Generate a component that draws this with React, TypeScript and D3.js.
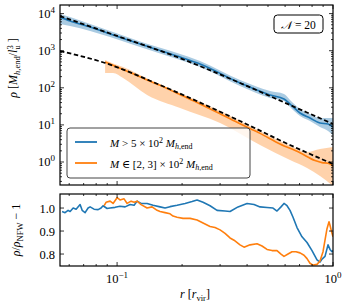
import React from 'react';
import * as d3 from 'd3';

// radius grids [r_vir] and densities
const rBlue = [0.0544, 0.0606, 0.075, 0.0928, 0.1278, 0.1896, 0.2422, 0.371, 0.5109, 0.593, 0.6323, 0.7034, 0.7825, 0.8706, 0.9482, 1.0];
const rhoBlue = [8090, 6320, 4360, 2820, 1517, 720, 438, 135, 64, 49.9, 36.6, 20.9, 15.3, 11.2, 10.6, 8.77];
const rhoBlueHi = [9750, 8090, 5250, 3400, 1770, 867, 528, 162, 82, 68, 46.9, 26.8, 19.7, 15.3, 15.3, 15.3];
const rhoBlueLo = [5250, 4630, 3400, 2340, 1259, 597, 364, 112, 53, 44, 30.4, 17.4, 12.7, 8.8, 6.85, 5.3];

const rOrange = [0.088, 0.1, 0.1149, 0.1377, 0.1581, 0.1896, 0.2422, 0.2999, 0.371, 0.4592, 0.5683, 0.7034, 0.8254, 0.8895, 0.9482, 1.0];
const rhoOrange = [496, 364, 258, 162, 117, 71, 36.6, 20.0, 10.7, 5.9, 3.06, 1.77, 1.09, 0.96, 0.93, 0.78];
const rOrangeBand = [0.088, 0.0958, 0.1066, 0.1377, 0.1957, 0.2999, 0.4592, 0.6323, 0.7581, 0.8706, 1.0];
const rhoOrangeHi = [561, 452, 364, 178, 72.4, 23.7, 6.85, 2.78, 1.86, 2.24, 2.54];
const rhoOrangeLo = [250, 250, 184, 64, 28.6, 11.2, 2.87, 1.13, 0.69, 0.42, 0.225];

// NFW fits (dashed)
const rFit = [0.0544, 0.0928, 0.1896, 0.371, 0.6323, 1.0];
const rhoFitBlue = [8610, 2910, 676, 135, 34.4, 10.6];
const rFit2 = [0.0544, 0.088, 0.1581, 0.371, 0.6323, 1.0];
const rhoFitOrange = [982, 466, 119, 12.7, 2.87, 0.883];

// residual panel
const rRatioBlue = [0.0556, 0.0574, 0.0593, 0.0606, 0.0626, 0.0646, 0.0674, 0.0689, 0.0711, 0.0734, 0.075, 0.0782, 0.0817, 0.0843, 0.0861, 0.0899, 0.0928, 0.0979, 0.1032, 0.1089, 0.1149, 0.1199, 0.1238, 0.1292, 0.1377, 0.1468, 0.1581, 0.1668, 0.1759, 0.1896, 0.2065, 0.2225, 0.2347, 0.2501, 0.2695, 0.2904, 0.3162, 0.3335, 0.3632, 0.3999, 0.4308, 0.4592, 0.4948, 0.5275, 0.5503, 0.5743, 0.593, 0.6124, 0.6323, 0.6529, 0.6813, 0.7186, 0.7581, 0.7995, 0.8432, 0.8706, 0.8895, 0.9183, 0.9482, 0.9685, 0.9894, 1.0];
const ratioBlue = [0.985, 0.98, 0.99, 0.985, 1.0, 0.995, 1.015, 0.99, 0.98, 1.0, 1.005, 0.995, 0.993, 1.0, 1.01, 0.998, 1.0, 1.003, 1.008, 1.005, 1.015, 1.012, 1.03, 1.02, 1.02, 1.012, 1.005, 1.0, 1.006, 1.012, 1.02, 1.028, 1.035, 1.025, 1.01, 0.99, 0.987, 0.985, 1.005, 1.02, 1.015, 1.005, 1.002, 1.0, 0.987, 1.005, 1.02, 1.01, 0.99, 0.96, 0.915, 0.875, 0.85, 0.815, 0.775, 0.765, 0.778, 0.79, 0.84, 0.82, 0.81, 0.815];
const rRatioOrange = [0.0871, 0.0889, 0.0928, 0.0958, 0.1, 0.1032, 0.1077, 0.1113, 0.1161, 0.1199, 0.1238, 0.1292, 0.1377, 0.1452, 0.1532, 0.1581, 0.1668, 0.1759, 0.1816, 0.1896, 0.2021, 0.2178, 0.2347, 0.2501, 0.2695, 0.2842, 0.2999, 0.3162, 0.3335, 0.348, 0.371, 0.3873, 0.4128, 0.4448, 0.4691, 0.4948, 0.5219, 0.5503, 0.5743, 0.593, 0.619, 0.646, 0.6741, 0.7034, 0.7342, 0.7581, 0.7825, 0.808, 0.8432, 0.8706, 0.899, 0.9183, 0.938, 0.9583, 0.9685, 0.9894, 1.0];
const ratioOrange = [1.01, 1.025, 1.03, 1.02, 1.045, 1.035, 1.04, 1.02, 1.03, 1.025, 1.03, 1.015, 1.0, 1.005, 0.99, 0.985, 0.98, 0.975, 0.965, 0.96, 0.955, 0.955, 0.948, 0.935, 0.92, 0.915, 0.905, 0.89, 0.87, 0.86, 0.84, 0.83, 0.84, 0.845, 0.835, 0.82, 0.815, 0.815, 0.8, 0.79, 0.8, 0.81, 0.81, 0.805, 0.795, 0.78, 0.76, 0.752, 0.755, 0.77, 0.81, 0.86, 0.91, 0.94, 0.925, 0.89, 0.875];

const topExps = [0, 1, 2, 3, 4];
const botTicks = [0.8, 0.9, 1.0];
const xMajor = [0.1, 1];

const BLUE = '#1f77b4';
const ORANGE = '#ff7f0e';
const FONT = '"Liberation Serif", "DejaVu Serif", serif';

const L = 60, R = 333, T1 = 5, B1 = 185, T2 = 194, B2 = 266;

const x = d3.scaleLog().domain([0.0544, 1]).range([L, R]);
const yTop = d3.scaleLog().domain([Math.pow(10, -0.62), Math.pow(10, 4.232)]).range([B1, T1]);
const yBot = d3.scaleLinear().domain([0.748, 1.061]).range([B2, T2]);

const zip = (a: number[], b: number[]) => a.map((v, i) => [v, b[i]] as [number, number]);

const lineTop = d3.line<[number, number]>().x(d => x(d[0])).y(d => yTop(d[1])).curve(d3.curveMonotoneX);
const lineBot = d3.line<[number, number]>().x(d => x(d[0])).y(d => yBot(d[1]));
const bandTop = (r: number[], lo: number[], hi: number[]) =>
  d3.area<number>().x((_, i) => x(r[i])).y0((_, i) => yTop(lo[i])).y1((_, i) => yTop(hi[i])).curve(d3.curveMonotoneX)(r) as string;

const xMinor: number[] = [];
[0.01, 0.1].forEach(dec => { for (let k = 2; k <= 9; k++) { const v = dec * k; if (v >= 0.0544 && v <= 1) xMinor.push(v); } });
const yMinor: number[] = [];
[-1, 0, 1, 2, 3, 4].forEach(e => { for (let k = 2; k <= 9; k++) { const v = k * Math.pow(10, e); if (v >= Math.pow(10, -0.62) && v <= Math.pow(10, 4.232)) yMinor.push(v); } });

const XTicks = ({ top, bottom }: { top: number; bottom: number }) => (
  <g stroke="#000" strokeWidth={0.8}>
    {xMajor.map(v => <g key={'M' + v}><line x1={x(v)} x2={x(v)} y1={bottom} y2={bottom - 4} /><line x1={x(v)} x2={x(v)} y1={top} y2={top + 4} /></g>)}
    {xMinor.map(v => <g key={'m' + v}><line x1={x(v)} x2={x(v)} y1={bottom} y2={bottom - 2} /><line x1={x(v)} x2={x(v)} y1={top} y2={top + 2} /></g>)}
  </g>
);

export default function App() {
  return (
    <svg width={354} height={303} style={{ position: 'absolute', left: 0, top: 0, background: '#fff' }} fontFamily={FONT}>
      <defs>
        <clipPath id="c1"><rect x={L} y={T1} width={R - L} height={B1 - T1} /></clipPath>
        <clipPath id="c2"><rect x={L} y={T2} width={R - L} height={B2 - T2} /></clipPath>
      </defs>

      {/* top panel */}
      <g clipPath="url(#c1)">
        <path d={bandTop(rBlue, rhoBlueLo, rhoBlueHi)} fill={BLUE} fillOpacity={0.38} />
        <path d={bandTop(rOrangeBand, rhoOrangeLo, rhoOrangeHi)} fill={ORANGE} fillOpacity={0.35} />
        <path d={lineTop(zip(rBlue, rhoBlue)) as string} fill="none" stroke={BLUE} strokeWidth={1.6} />
        <path d={lineTop(zip(rOrange, rhoOrange)) as string} fill="none" stroke={ORANGE} strokeWidth={1.6} />
        <path d={lineTop(zip(rFit, rhoFitBlue)) as string} fill="none" stroke="#000" strokeWidth={1.8} strokeDasharray="4.5 2.6" />
        <path d={lineTop(zip(rFit2, rhoFitOrange)) as string} fill="none" stroke="#000" strokeWidth={1.8} strokeDasharray="4.5 2.6" />
      </g>
      <XTicks top={T1} bottom={B1} />
      <g stroke="#000" strokeWidth={0.8}>
        {topExps.map(e => <g key={e}><line x1={L} x2={L + 4} y1={yTop(Math.pow(10, e))} y2={yTop(Math.pow(10, e))} /><line x1={R} x2={R - 4} y1={yTop(Math.pow(10, e))} y2={yTop(Math.pow(10, e))} /></g>)}
        {yMinor.map(v => <g key={v}><line x1={L} x2={L + 2} y1={yTop(v)} y2={yTop(v)} /><line x1={R} x2={R - 2} y1={yTop(v)} y2={yTop(v)} /></g>)}
      </g>
      <rect x={L} y={T1} width={R - L} height={B1 - T1} fill="none" stroke="#000" strokeWidth={1.2} />
      {topExps.map(e => (
        <text key={e} x={55} y={yTop(Math.pow(10, e)) + 4.5} textAnchor="end" fontSize={12.5}>
          10<tspan dy={-5.5} fontSize={9}>{e}</tspan>
        </text>
      ))}

      {/* legend */}
      <rect x={67} y={128} width={183} height={50} rx={3} fill="#fff" fillOpacity={0.8} stroke="#444" strokeWidth={1} />
      <line x1={75} x2={97} y1={142} y2={142} stroke={BLUE} strokeWidth={1.8} />
      <line x1={75} x2={97} y1={163} y2={163} stroke={ORANGE} strokeWidth={1.8} />
      <text x={110} y={146.5} fontSize={11}>
        <tspan fontStyle="italic">M</tspan> &gt; 5 × 10<tspan dy={-4} fontSize={8}>2</tspan><tspan dy={4}> </tspan>
        <tspan fontStyle="italic">M</tspan><tspan dy={2.5} fontSize={8}><tspan fontStyle="italic">h</tspan>,end</tspan>
      </text>
      <text x={110} y={167.5} fontSize={11}>
        <tspan fontStyle="italic">M</tspan> ∈ [2, 3] × 10<tspan dy={-4} fontSize={8}>2</tspan><tspan dy={4}> </tspan>
        <tspan fontStyle="italic">M</tspan><tspan dy={2.5} fontSize={8}><tspan fontStyle="italic">h</tspan>,end</tspan>
      </text>

      {/* N box */}
      <rect x={274} y={15} width={49} height={18} rx={3.5} fill="#fff" stroke="#000" strokeWidth={1} />
      <text x={298.5} y={28.5} fontSize={11.5} textAnchor="middle">
        <tspan fontStyle="italic">𝒩</tspan> = 20
      </text>

      {/* bottom panel */}
      <g clipPath="url(#c2)">
        <path d={lineBot(zip(rRatioBlue, ratioBlue)) as string} fill="none" stroke={BLUE} strokeWidth={1.6} strokeLinejoin="round" />
        <path d={lineBot(zip(rRatioOrange, ratioOrange)) as string} fill="none" stroke={ORANGE} strokeWidth={1.6} strokeLinejoin="round" />
      </g>
      <XTicks top={T2} bottom={B2} />
      <g stroke="#000" strokeWidth={0.8}>
        {botTicks.map(v => <g key={v}><line x1={L} x2={L + 4} y1={yBot(v)} y2={yBot(v)} /><line x1={R} x2={R - 4} y1={yBot(v)} y2={yBot(v)} /></g>)}
      </g>
      <rect x={L} y={T2} width={R - L} height={B2 - T2} fill="none" stroke="#000" strokeWidth={1.2} />
      {botTicks.map(v => (
        <text key={v} x={55} y={yBot(v) + 4.5} textAnchor="end" fontSize={12.5}>{v.toFixed(1)}</text>
      ))}
      <text x={x(0.1)} y={283} textAnchor="middle" fontSize={12.5}>10<tspan dy={-5.5} fontSize={9}>−1</tspan></text>
      <text x={x(1)} y={283} textAnchor="middle" fontSize={12.5}>10<tspan dy={-5.5} fontSize={9}>0</tspan></text>

      {/* axis labels */}
      <text x={195} y={298} textAnchor="middle" fontSize={12}>
        <tspan fontStyle="italic">r</tspan> [<tspan fontStyle="italic">r</tspan><tspan dy={2.5} fontSize={8.5}>vir</tspan><tspan dy={-2.5}>]</tspan>
      </text>
      <text transform="translate(17,68) rotate(-90)" textAnchor="middle" fontSize={12}>
        <tspan fontStyle="italic">ρ</tspan> [<tspan fontStyle="italic">M</tspan><tspan dy={2.5} fontSize={8.5}><tspan fontStyle="italic">h</tspan>,end</tspan><tspan dy={-2.5}>/</tspan><tspan fontStyle="italic">l</tspan><tspan dy={3} fontSize={8.5}>u</tspan><tspan dx={-4.3} dy={-7.5} fontSize={8.5}>3</tspan><tspan dy={4.5}> ]</tspan>
      </text>
      <text transform="translate(20,230) rotate(-90)" textAnchor="middle" fontSize={12}>
        <tspan fontStyle="italic">ρ</tspan>/<tspan fontStyle="italic">ρ</tspan><tspan dy={2.5} fontSize={8.5}>NFW</tspan><tspan dy={-2.5}> − 1</tspan>
      </text>
    </svg>
  );
}
